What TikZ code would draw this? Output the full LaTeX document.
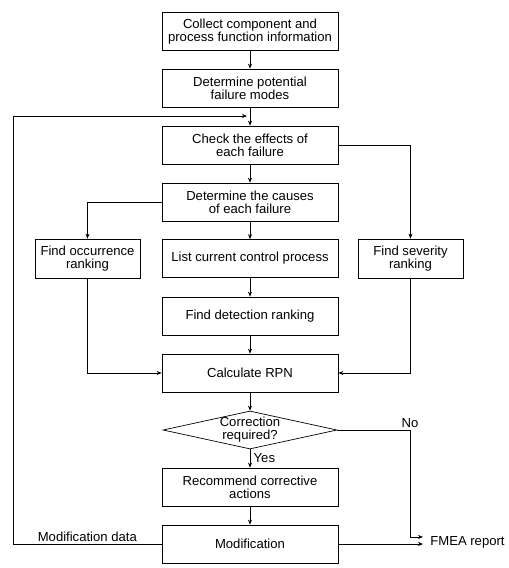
\documentclass[tikz,border=0pt]{standalone}
\usepackage{fontspec}
\setmainfont{Liberation Sans}
\usetikzlibrary{arrows.meta,shapes.geometric}
\begin{document}
\begin{tikzpicture}[x=1pt,y=-1pt,
    line width=0.7pt,
    every node/.style={font=\fontsize{13.1}{12.8}\selectfont},
    box/.style={draw,align=center,minimum width=176pt,minimum height=38pt,inner sep=1pt},
    sidebox/.style={draw,align=center,minimum width=105pt,minimum height=39pt,inner sep=1pt},
    arr/.style={-{Stealth[length=5pt,width=4pt]}}]
            \useasboundingbox (0,0) rectangle (509,568);
            % main column
            \node[box] (collect) at (250,31.5){Collect component and\\process function information};
            \node[box] (modes) at (250,88){Determine potential\\failure modes};
            \node[box] (effects) at (250,145){Check the effects of\\each failure};
            \node[box] (causes) at (250,202){Determine the causes\\of each failure};
            \node[sidebox] (occ) at (87.5,258.5){Find occurrence\\ranking};
            \node[box] (control) at (250,258.5){List current control process};
            \node[sidebox] (sev) at (410.5,258.5){Find severity\\ranking};
            \node[box] (detect) at (250,316){Find detection ranking};
            \node[box] (rpn) at (250,373){Calculate RPN};
            \node[draw,diamond,minimum width=174pt,minimum height=38pt,inner sep=0pt,
                label={[align=center]center:Correction\\required?}] (check) at (250,430){};
            \node[box] (recommend) at (250,487){Recommend corrective\\actions};
            \node[box] (modify) at (250,544){Modification};
            \node[anchor=west,inner sep=0pt] (report) at (430,542){FMEA report};
            % corners
            \coordinate (back) at (13,116);
            \coordinate (join) at (247,116);
            \coordinate (nocorner) at (410,430);
            \coordinate (in1) at (423,537);
            \coordinate (in2) at (423,544);
            \draw[arr] (collect) -- (modes);
            \draw[arr] (modes) -- (effects);
            \draw[arr] (effects) -- (causes);
            \draw[arr] (causes) -- (control);
            \draw[arr] (control) -- (detect);
            \draw[arr] (detect) -- (rpn);
            \draw[arr] (rpn) -- (check);
            \draw[arr] (check) -- node[right,pos=0.45]{Yes} (recommend);
            \draw[arr] (recommend) -- (modify);
            \draw[arr] (effects.east) -| (sev.north);
            \draw[arr] (causes.west) -| (occ.north);
            \draw[arr] (occ.south) |- (rpn.west);
            \draw[arr] (sev.south) |- (rpn.east);
            \draw[arr] (check.east) -- (nocorner) node[above,yshift=-1pt]{No} |- (in1);
            \draw[arr] (modify.east) -- (in2);
            % feedback
            \draw[arr] (modify.west) -- node[above,yshift=-1pt,pos=0.5]{Modification data} (13,544) -- (back) -- (join);
        \end{tikzpicture}
\end{document}
